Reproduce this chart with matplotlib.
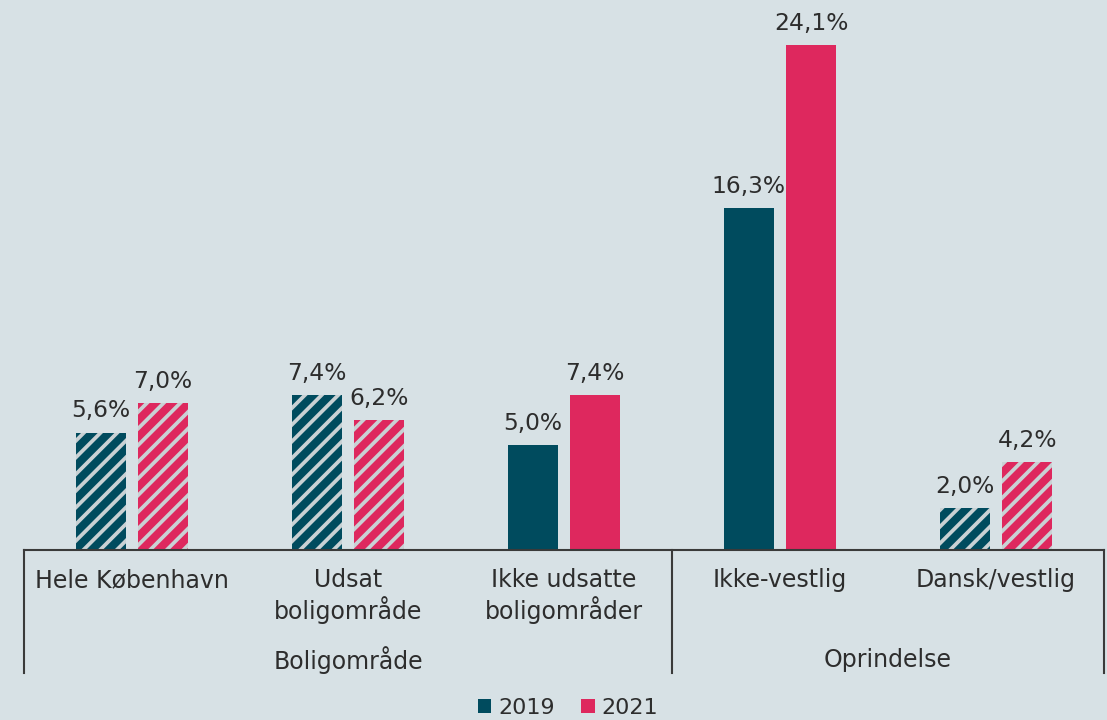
import matplotlib
matplotlib.use("Agg")
import matplotlib.pyplot as plt
from matplotlib.patches import Patch
from matplotlib.lines import Line2D
import numpy as np

categories = ["Hele København", "Udsat\nboligområde", "Ikke udsatte\nboligområder", "Ikke-vestlig", "Dansk/vestlig"]
groups = ["Boligområde", "Oprindelse"]
group_spans = [(0, 3), (3, 5)]
series_names = ["2019", "2021"]
values_2019 = [5.6, 7.4, 5.0, 16.3, 2.0]
values_2021 = [7.0, 6.2, 7.4, 24.1, 4.2]
hatched = [True, True, False, False, True]

BG = "#d7e1e5"
TEAL = "#004b5e"
PINK = "#de285e"
STRIPE = "#c9d1d4"
TXT = "#2d2d2d"
FS = 17
FS_VAL = 16.8

plt.rcParams["hatch.linewidth"] = 2.7
plt.rcParams["font.family"] = ["DejaVu Sans"]

W, H = 1107, 720
fig = plt.figure(figsize=(W / 100, H / 100), dpi=100, facecolor=BG)
ax_left, ax_right, base_y = 24, 1104, 550
ax = fig.add_axes([ax_left / W, (H - base_y) / H, (ax_right - ax_left) / W, base_y / H])
ax.set_facecolor(BG)
ax.patch.set_alpha(0)

n = len(categories)
x = np.arange(n)
bw = 0.23
off = 0.144
ax.set_xlim(-0.5, n - 0.5)
ax.set_ylim(0, 26.25)

for vals, color, dx in [(values_2019, TEAL, -off), (values_2021, PINK, off)]:
    for i, v in enumerate(vals):
        if hatched[i]:
            ax.bar(x[i] + dx, v, bw, color=color, edgecolor=STRIPE, hatch="//", linewidth=0)
        else:
            ax.bar(x[i] + dx, v, bw, color=color, linewidth=0)
        ax.annotate(f"{v:.1f}%".replace(".", ","), (x[i] + dx, v), xytext=(0, 7.5),
                    textcoords="offset points", ha="center", va="bottom",
                    fontsize=FS_VAL, color=TXT)

for s in ["top", "right", "left"]:
    ax.spines[s].set_visible(False)
ax.spines["bottom"].set_color("#3a3a3a")
ax.spines["bottom"].set_linewidth(1.5)
ax.set_xticks([])
ax.set_yticks([])

def fx(px):
    return px / W

def fy(py):
    return 1 - py / H

cat_w = (ax_right - ax_left) / n
for i, c in enumerate(categories):
    cx = ax_left + cat_w * (i + 0.5)
    fig.text(fx(cx), fy(568), c, ha="center", va="top", fontsize=FS, color=TXT, linespacing=1.2)

for g, (a, b) in zip(groups, group_spans):
    cx = ax_left + cat_w * (a + b) / 2
    fig.text(fx(cx), fy(660), g, ha="center", va="center", fontsize=FS, color=TXT)

for k in [0, 3, 5]:
    px = ax_left + cat_w * k
    fig.add_artist(Line2D([fx(px), fx(px)], [fy(550), fy(673)], color="#3a3a3a", lw=1.5,
                          transform=fig.transFigure))

handles = [Patch(facecolor=TEAL, label=series_names[0]), Patch(facecolor=PINK, label=series_names[1])]
fig.legend(handles=handles, loc="center", bbox_to_anchor=(fx(568), fy(708)), ncol=2, frameon=False,
           fontsize=16, handlelength=0.62, handleheight=0.62, handletextpad=0.3, columnspacing=1.2,
           labelcolor=TXT)

fig.savefig("out.png", dpi=100, facecolor=BG)
